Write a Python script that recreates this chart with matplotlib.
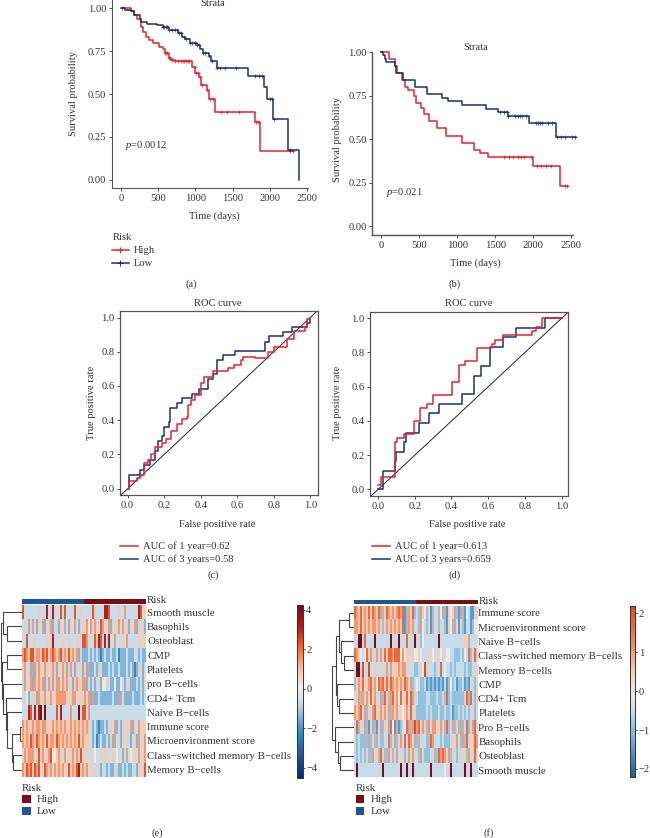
import numpy as np
import matplotlib
matplotlib.use("Agg")
import matplotlib.pyplot as plt
from matplotlib.colors import LinearSegmentedColormap, ListedColormap, Normalize
from matplotlib.lines import Line2D
from matplotlib.patches import Rectangle

plt.rcParams['font.family'] = ['Liberation Serif', 'DejaVu Serif']
plt.rcParams['mathtext.fontset'] = 'custom'
plt.rcParams['mathtext.it'] = 'Liberation Serif:italic'
plt.rcParams['mathtext.rm'] = 'Liberation Serif'

W, H = 650, 838
RED = '#e8222c'
NAVY = '#1f2f80'
GREY = '#555555'
TEXT = '#333333'
FS = 7.6

# Survival curves, panel (a)
a_high_t = [0, 130, 170, 210, 260, 270, 300, 340, 370, 430, 510, 560, 590, 640, 670, 720, 950, 960, 1000, 1050, 1070, 1150, 1180, 1260, 1805, 1873, 2316]
a_high_s = [1.0, .985, .96, .94, .935, .89, .86, .83, .815, .80, .775, .765, .74, .71, .70, .69, .69, .66, .62, .60, .55, .525, .47, .393, .335, .167, .167]
a_high_cens = [590, 610, 625, 640, 660, 680, 730, 770, 800, 830, 850, 870, 900, 920, 990, 1010, 1040, 1060, 1085, 1150, 1190, 1230, 1340, 1430, 1590, 1810, 1840, 2270, 2310]
a_low_t = [10, 60, 130, 170, 250, 270, 350, 480, 560, 640, 760, 820, 860, 930, 1020, 1060, 1100, 1180, 1210, 1286, 1711, 1926, 1967, 2038, 2240, 2388, 2388]
a_low_s = [1.0, .99, .985, .96, .935, .92, .91, .90, .89, .875, .855, .835, .82, .80, .785, .76, .74, .72, .69, .65, .605, .54, .47, .354, .175, .175, 0.0]
a_low_cens = [20, 560, 580, 600, 620, 650, 680, 720, 750, 780, 810, 850, 880, 930, 960, 990, 1020, 1050, 1100, 1130, 1180, 1220, 1290, 1330, 1400, 1540, 1800, 1850, 1900, 2000, 2030, 2060, 2270]

# Survival curves, panel (b)
b_high_t = [0, 110, 190, 210, 280, 310, 360, 430, 460, 520, 560, 630, 740, 860, 1060, 1220, 1300, 1410, 2000, 2350, 2450]
b_high_s = [1.0, .96, .92, .88, .84, .80, .78, .75, .71, .68, .645, .605, .565, .52, .48, .44, .42, .40, .345, .23, .23]
b_high_cens = [1610, 1680, 1740, 1800, 1840, 1880, 1970, 2050, 2100, 2170, 2230, 2420, 2440]
b_low_t = [0, 20, 50, 70, 184, 200, 293, 447, 600, 805, 884, 1064, 1379, 1541, 1664, 1948, 2298, 2557]
b_low_s = [1.0, .98, .96, .944, .92, .88, .84, .797, .757, .736, .717, .696, .675, .654, .63, .593, .51, .51]
b_low_cens = [1560, 1620, 1650, 1665, 1760, 1800, 1820, 1850, 1910, 2040, 2060, 2085, 2110, 2190, 2240, 2310, 2370, 2420, 2510, 2550]

# ROC curves, panel (c)
c_red_x = [0, .01, .05, .07, .09, .11, .13, .15, .19, .21, .24, .27, .30, .325, .33, .345, .37, .40, .42, .45, .47, .50, .55, .58, .62, .63, .70, .75, .77, .80, .87, .91, .97, .98, 1.0]
c_red_y = [0, .045, .06, .08, .15, .165, .20, .245, .265, .29, .335, .375, .405, .42, .49, .52, .55, .62, .65, .655, .69, .685, .705, .725, .75, .77, .765, .765, .80, .825, .875, .92, .945, .99, 1.0]
c_blue_x = [0, .01, .065, .09, .12, .15, .165, .19, .20, .225, .23, .27, .295, .35, .39, .44, .47, .49, .52, .59, .75, .775, .85, .90, .98, 1.0]
c_blue_y = [0, .08, .11, .14, .17, .22, .28, .305, .36, .39, .47, .50, .53, .555, .58, .64, .67, .75, .78, .805, .86, .89, .915, .945, .97, 1.0]

# ROC curves, panel (d)
d_red_x = [0, .015, .09, .105, .14, .195, .23, .265, .30, .405, .44, .475, .54, .62, .635, .68, .84, .86, .895, 1.0]
d_red_y = [.025, .075, .275, .30, .325, .40, .475, .50, .55, .625, .725, .75, .825, .85, .875, .90, .925, .95, 1.0, 1.0]
d_blue_x = [0, .025, .09, .10, .14, .15, .225, .275, .33, .455, .52, .56, .61, .68, .75, .91, 1.0]
d_blue_y = [0, .11, .165, .22, .28, .33, .39, .445, .50, .555, .665, .72, .83, .89, .945, 1.0, 1.0]

# Heatmap rows as colour levels, 0 = darkest blue, 9 = darkest red
e_labels = ['Smooth muscle', 'Basophils', 'Osteoblast', 'CMP', 'Platelets', 'pro B\u2212cells', 'CD4+ Tcm',
            'Naive B\u2212cells', 'Immune score', 'Microenvironment score', 'Class\u2212switched memory B\u2212cells', 'Memory B\u2212cells']
e_smooth = "7333333353 3383383337 3733337335 3 3333753333 8873333533 6333333873 5"
e_baso = "3532563253 6235623525 3632536325 3 5646365376 3562535636 3525362535 2"
e_osteo = "3373335333 3353583333 5335333533 7 7633375873 8383363335 3633333553 5"
e_cmp = "6765775665 7675676567 5657565625 2 2232323212 3223223122 2322233232 2"
e_plate = "5635262565 3653565253 6525632535 2 5262232532 2232322322 2323212532 3"
e_prob = "3635626565 6256525663 6563525653 6 6252325324 4532242243 2352223232 5"
e_cd4 = "3542355265 5635635666 6653566355 3 6562622322 2222322263 2222322232 3"
e_naive = "3338738389 3933333738 3333633393 7 7363333333 3333333333 3333333333 3"
e_immune = "6565565665 6655565656 5655656565 6 5653232122 3235362325 3536253635 5"
e_micro = "6565765765 6575665765 6565656575 6 5553231232 2325263325 3532352635 6"
e_class = "3656663575 6356744565 3635563657 5 3535343353 5353534532 3634353635 6"
e_memory = "6576757673 5765636565 6357565785 6 5635353323 3232235223 2322332535 7"

f_labels = ['Immune score', 'Microenvironment score', 'Naive B\u2212cells', 'Class\u2212switched memory B\u2212cells', 'Memory B\u2212cells',
            'CMP', 'CD4+ Tcm', 'Platelets', 'Pro B\u2212cells', 'Basophils', 'Osteoblast', 'Smooth muscle']
f_immune = "7657565757 6576257656 5676712657 2 3265425125 3246215436 2162143113 5"
f_micro = "6657565656 6565236565 6565712656 3 3264325125 3235215426 3152133124 4"
f_naive = "3399373333 9333333393 3393337333 9 5324333333 3933333333 3333536333 3"
f_class = "7654347563 3636375776 7774645535 4 4543335343 5345344332 2232437237 5"
f_memory = "3993833833 5335336363 5565663533 2 2334853332 3373433232 3333232235 3"
f_cmp = "2565735675 6476757576 5656576562 3 4322312121 2121312423 1223121352 3"
f_cd4 = "3562656375 6336275267 5647357376 3 3222233222 3223272322 2222572732 5"
f_plate = "6567362536 7536563626 5635456375 3 2222232322 2322322312 2323232532 3"
f_prob = "3725362136 2136235614 7212347626 8 6736526366 5365272362 5262372367 3"
f_baso = "5232222623 2632233723 6236373763 6 2253322763 3323222353 6326275357 6"
f_osteo = "3232325226 3527522652 3633523636 3 3263222352 2767636253 2353526337 5"
f_smooth = "3933333333 3333933333 3339339339 3 3333333933 3333433933 3333933933 3"

# level -> value on each colour bar
e_levels = [-4.0, -2.2, -1.4, -0.7, 0.0, 0.8, 1.5, 2.3, 3.1, 4.0]
f_levels = [-2.1, -1.5, -0.9, -0.5, 0.0, 0.5, 1.0, 1.7, 2.2, 3.0]

n_low, n_high = 31, 31

# Dendrograms: (height, branch, branch), a branch is a row number or another node
e_tree = (1.0, (.92, 0, (.73, 1, 2)),
          (.97, (.73, 3, 4),
           (.89, 5, (.78, 6, (.70, 7, (.48, (.11, 8, 9), (.42, 10, 11)))))))
f_tree = (1.0, (.80, (.67, (.20, 0, 1), (.59, 2, (.45, 3, 4))), (.77, 5, (.67, 6, 7))),
          (.875, 8, (.72, 9, (.64, 10, 11))))


def box(l, t, r, b):
    return [l / W, 1 - b / H, (r - l) / W, (b - t) / H]


fig = plt.figure(figsize=(W / 100, H / 100), dpi=100)
# whole figure layer in pixel coordinates, for labels and keys
page = fig.add_axes([0, 0, 1, 1])
page.set_xlim(0, W)
page.set_ylim(H, 0)
page.axis('off')
page.set_zorder(5)


def label(x, y, s, **kw):
    kw.setdefault('fontsize', FS)
    kw.setdefault('color', TEXT)
    kw.setdefault('ha', 'center')
    kw.setdefault('va', 'center')
    page.text(x, y, s, **kw)


def survival(ax, t, s, cens, color):
    ax.step(t, s, where='post', color=color, lw=1.1, clip_on=False)
    idx = np.searchsorted(t, cens, side='right') - 1
    ax.plot(cens, np.array(s)[idx], '+', color=color, ms=3.5, mew=0.5, clip_on=False)


def style_km(ax, lw):
    for side in ['top', 'right']:
        ax.spines[side].set_visible(False)
    for side in ['left', 'bottom']:
        ax.spines[side].set_color(GREY)
        ax.spines[side].set_linewidth(lw)
    ax.set_xticks([0, 500, 1000, 1500, 2000, 2500])
    ax.set_yticks([0, .25, .5, .75, 1])
    ax.set_yticklabels(['0.00', '0.25', '0.50', '0.75', '1.00'])
    ax.tick_params(labelsize=FS, colors=TEXT, length=2.5, width=0.6, pad=1.5)


def roc(ax, xr, yr, xb, yb):
    ax.plot([-.1, 1.1], [-.1, 1.1], color='#222222', lw=0.7)
    ax.step(xb, yb, where='post', color=NAVY, lw=1.1)
    ax.step(xr, yr, where='post', color=RED, lw=1.1)
    ax.set_xticks(np.arange(0, 1.01, .2))
    ax.set_yticks(np.arange(0, 1.01, .2))
    ax.tick_params(labelsize=FS, colors=TEXT, length=2.5, width=0.6, pad=1.5)
    for s in ax.spines.values():
        s.set_color(GREY)
        s.set_linewidth(0.9)


# (a)
ax = fig.add_axes(box(111.7, 0, 307.5, 188))
survival(ax, a_high_t, a_high_s, a_high_cens, RED)
survival(ax, a_low_t, a_low_s, a_low_cens, NAVY)
ax.set_xlim(-125, 2507)
ax.set_ylim(-.048, 1.048)
style_km(ax, 0.8)
label(213, 4, 'Strata')
label(74, 93, 'Survival probability', rotation=90)
label(214, 216, 'Time (days)')
label(125, 145.5, r'$\mathit{p}$=0.0012', ha='left')
label(112.7, 237, 'Risk', ha='left')
for y, name, c in [(250, 'High', RED), (263, 'Low', NAVY)]:
    page.add_line(Line2D([111.7, 129], [y, y], color=c, lw=1.1))
    page.plot([120.3], [y], '+', color=c, ms=4.5, mew=0.7)
    label(134, y, name, ha='left')
label(191, 284, '(a)')

# (b)
ax = fig.add_axes(box(372.3, 52, 573, 235.3))
survival(ax, b_high_t, b_high_s, b_high_cens, RED)
survival(ax, b_low_t, b_low_s, b_low_cens, NAVY)
ax.set_xlim(-114, 2522)
ax.set_ylim(-.052, 1.0)
style_km(ax, 1.0)
label(476, 47.7, 'Strata')
label(337, 139, 'Survival probability', rotation=90)
label(475, 263, 'Time (days)')
label(386, 192, r'$\mathit{p}$=0.021', ha='left')
label(455, 284, '(b)')

# (c)
ax = fig.add_axes(box(120, 310.7, 318.3, 495))
roc(ax, c_red_x, c_red_y, c_blue_x, c_blue_y)
ax.set_xlim(-.042, 1.044)
ax.set_ylim(-.037, 1.04)
label(218, 303, 'ROC curve')
label(92, 403, 'True positive rate', rotation=90)
label(217, 524, 'False positive rate')
for y, name, c in [(546, 'AUC of 1 year=0.62', RED), (559, 'AUC of 3 years=0.58', NAVY)]:
    page.add_line(Line2D([120, 138], [y, y], color=c, lw=1.1))
    label(143, y, name, ha='left')
label(213, 575, '(c)')

# (d)
ax = fig.add_axes(box(370.3, 311.7, 568.3, 496))
roc(ax, d_red_x, d_red_y, d_blue_x, d_blue_y)
ax.set_xlim(-.042, 1.036)
ax.set_ylim(-.038, 1.038)
label(469, 303, 'ROC curve')
label(337, 403, 'True positive rate', rotation=90)
label(467, 524, 'False positive rate')
for y, name, c in [(546, 'AUC of 1 year=0.613', RED), (559, 'AUC of 3 years=0.659', NAVY)]:
    page.add_line(Line2D([371.7, 390], [y, y], color=c, lw=1.1))
    label(395, y, name, ha='left')
label(455, 575, '(d)')


def decode(rows, levels):
    out = []
    for r in rows:
        out.append([levels[int(ch)] for ch in r.replace(' ', '')])
    return np.array(out)


def draw_tree(ax, node):
    # returns the row position of the node, heights grow to the left
    if not isinstance(node, tuple):
        return node + 0.5, 0.0
    h, a, b = node
    ya, ha = draw_tree(ax, a)
    yb, hb = draw_tree(ax, b)
    ax.plot([ha, h, h, hb], [ya, ya, yb, yb], color='#444444', lw=0.8, solid_joinstyle='miter')
    return (ya + yb) / 2, h


def heatmap(rows, labels, levels, cmap, norm, tree, heat_box, bar_box, den_box, cbar_box, ticks):
    values = decode(rows, levels)
    ax = fig.add_axes(box(*heat_box))
    mesh = ax.imshow(values, cmap=cmap, norm=norm, aspect='auto', interpolation='nearest',
                     extent=(0, values.shape[1], len(rows), 0))
    ax.set_xticks([])
    ax.yaxis.tick_right()
    ax.set_yticks(np.arange(len(rows)) + .5)
    ax.set_yticklabels(labels)
    ax.tick_params(length=0, pad=1, labelsize=7.8, labelcolor=TEXT)
    for s in ax.spines.values():
        s.set_visible(False)

    ann = fig.add_axes(box(*bar_box))
    ann.imshow([[0] * n_low + [1] * n_high], cmap=ListedColormap(['#1c5699', '#7b0d14']), aspect='auto', interpolation='nearest')
    ann.axis('off')

    den = fig.add_axes(box(*den_box))
    draw_tree(den, tree)
    den.set_xlim(1.0, 0)
    den.set_ylim(len(rows), 0)
    den.axis('off')

    cax = fig.add_axes(box(*cbar_box))
    cb = fig.colorbar(mesh, cax=cax)
    cb.set_ticks(ticks)
    cb.set_ticklabels([str(t).replace('-', '\u2212') for t in ticks])
    cax.tick_params(labelsize=FS, colors=TEXT, length=1.5, width=0.6, pad=1)
    cb.outline.set_edgecolor('#333333')
    cb.outline.set_linewidth(0.7)


def risk_key(x, text_x):
    label(x, 788, 'Risk', ha='left', fontsize=7.8)
    for y, name, c in [(799, 'High', '#7b0d14'), (811, 'Low', '#1c5699')]:
        page.add_patch(Rectangle((x, y - 4), 8.5, 8, color=c, lw=0))
        label(text_x, y, name, ha='left', fontsize=7.8)


# (e)
e_vals = [-4.5, -2.2, -1.2, -0.7, 0.0, 0.8, 1.5, 2.3, 3.1, 4.25]
e_cols = ['#0a2a68', '#3f86c1', '#94c3e0', '#c9dcea', '#ecebe8', '#f8cdb4', '#f39a75', '#e4562d', '#b5201f', '#6e0a12']
e_cmap = LinearSegmentedColormap.from_list('e', [((v + 4.5) / 8.75, c) for v, c in zip(e_vals, e_cols)])
heatmap([e_smooth, e_baso, e_osteo, e_cmp, e_plate, e_prob, e_cd4, e_naive, e_immune, e_micro, e_class, e_memory],
        e_labels, e_levels, e_cmap, Normalize(-4.5, 4.25), e_tree,
        (22.3, 605, 145.7, 776.7), (22.3, 599.3, 145.7, 603.7), (1, 605, 22.3, 776.7), (296.7, 605, 302.7, 777.7), [-4, -2, 0, 2, 4])
label(146.5, 600.5, 'Risk', ha='left', fontsize=7.8)
risk_key(22, 37)
label(157, 833, '(e)')

# (f)
f_vals = [-2.2, -1.5, -0.9, -0.5, 0.0, 0.5, 1.0, 1.7, 2.2]
f_cols = ['#1c5f96', '#5b9bcc', '#94c3e0', '#c9dcea', '#ecebe8', '#f8cdb4', '#f39a75', '#ea6a3d', '#dc4a26']
f_cmap = LinearSegmentedColormap.from_list('f', [((v + 2.2) / 4.4, c) for v, c in zip(f_vals, f_cols)])
f_cmap.set_over('#7b0d18')
heatmap([f_immune, f_micro, f_naive, f_class, f_memory, f_cmp, f_cd4, f_plate, f_prob, f_baso, f_osteo, f_smooth],
        f_labels, f_levels, f_cmap, Normalize(-2.2, 2.2), f_tree,
        (353.7, 605.7, 477, 777.3), (353.7, 600, 477, 604.3), (332, 605.7, 353.7, 777.3), (629.7, 605.7, 635.3, 776.7), [-2, -1, 0, 1, 2])
label(478.5, 601, 'Risk', ha='left', fontsize=7.8)
risk_key(355.7, 370.7)
label(489, 833, '(f)')

fig.savefig('out.png', dpi=100)
